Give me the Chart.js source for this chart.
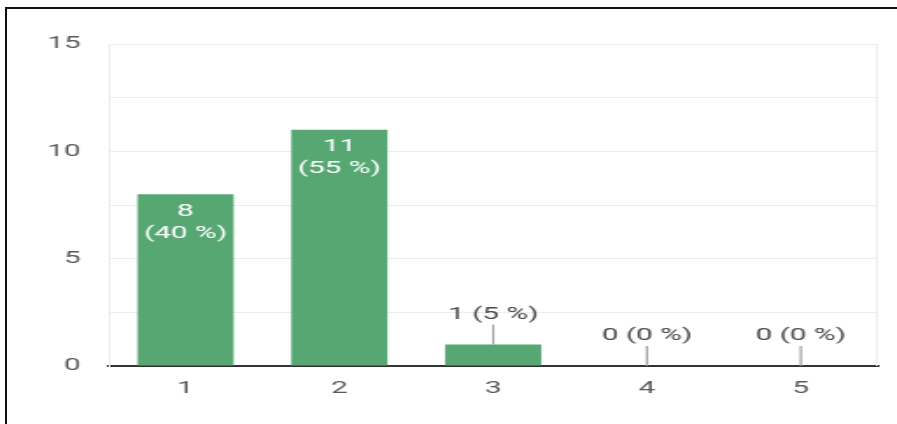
<!DOCTYPE html>
<html>
<head>
<meta charset="utf-8">
<title>Responses</title>
<script src="https://cdn.jsdelivr.net/npm/chart.js@4.4.1/dist/chart.umd.min.js"></script>
<style>
    html, body { margin: 0; padding: 0; background: #fff; overflow: hidden; }
    #frame {
        position: absolute; left: 5px; top: 7px; width: 900px; height: 430px;
        border-top: 2px solid #111; border-left: 2px solid #111; box-sizing: border-box;
    }
    #chart { position: absolute; left: 0; top: 0; }
</style>
</head>
<body>
<div id="frame"></div>
<!-- the chart is laid out narrow and shown wide -->
<canvas id="chart" width="512" height="424" style="width:897px;height:424px"></canvas>
<script>
var categories = ['1', '2', '3', '4', '5'];
var counts = [8, 11, 1, 0, 0];
var yTickLabels = [0, 5, 10, 15];

var barColor = '#57a773';
var gridColor = '#ececec';
var textColor = '#5a5a5a';
var fontFamily = 'Roboto, "Noto Sans", sans-serif';

var total = 0;
for (var i = 0; i < counts.length; i++) total += counts[i];

// light line on the right edge of the plot
var edgePlugin = {
    id: 'edge',
    beforeDatasetsDraw: function(chart) {
        var a = chart.chartArea;
        var ctx = chart.ctx;
        ctx.save();
        ctx.strokeStyle = gridColor;
        ctx.lineWidth = 1;
        ctx.beginPath();
        ctx.moveTo(a.right - 0.5, a.top);
        ctx.lineTo(a.right - 0.5, a.bottom);
        ctx.stroke();
        ctx.restore();
    }
};

// "n (p %)" labels, inside tall bars, on a short stalk above low ones
var valueLabels = {
    id: 'valueLabels',
    afterDatasetsDraw: function(chart) {
        var ctx = chart.ctx;
        var meta = chart.getDatasetMeta(0);
        ctx.save();
        ctx.font = '17px ' + fontFamily;
        ctx.textAlign = 'center';
        ctx.textBaseline = 'middle';
        meta.data.forEach(function(bar, i) {
            var pct = Math.round(counts[i] / total * 100);
            if (bar.base - bar.y > 50) {
                ctx.fillStyle = '#ffffff';
                ctx.fillText(String(counts[i]), bar.x, bar.y + 17);
                ctx.fillText('(' + pct + ' %)', bar.x, bar.y + 39);
            } else {
                ctx.strokeStyle = '#9e9e9e';
                ctx.lineWidth = 1.2;
                ctx.beginPath();
                ctx.moveTo(bar.x, bar.y);
                ctx.lineTo(bar.x, bar.y - 20);
                ctx.stroke();
                ctx.fillStyle = '#4a4a4a';
                ctx.fillText(counts[i] + ' (' + pct + ' %)', bar.x, bar.y - 30);
            }
        });
        ctx.restore();
    }
};

var ctx = document.getElementById('chart').getContext('2d');
var chart = new Chart(ctx, {
    type: 'bar',
    data: {
        labels: categories,
        datasets: [{
            data: counts,
            backgroundColor: barColor,
            borderWidth: 0,
            barPercentage: 0.625,
            categoryPercentage: 1.0
        }]
    },
    options: {
        responsive: false,
        animation: false,
        devicePixelRatio: 1,
        layout: { padding: { top: 44, right: 11, left: 0, bottom: 0 } },
        plugins: {
            legend: { display: false },
            tooltip: { enabled: false }
        },
        scales: {
            x: {
                grid: { display: false, drawTicks: false },
                border: { display: true, color: '#333333', width: 2 },
                ticks: {
                    color: textColor,
                    padding: 13,
                    font: { family: fontFamily, size: 17 }
                },
                afterFit: function(scale) { scale.height = 58; }
            },
            y: {
                min: 0,
                max: 15,
                grid: {
                    drawTicks: false,
                    color: function(c) { return c.tick && c.tick.value === 0 ? 'rgba(0,0,0,0)' : gridColor; }
                },
                border: { display: true, color: gridColor, width: 1 },
                ticks: {
                    stepSize: 2.5,
                    padding: 16,
                    color: textColor,
                    font: { family: fontFamily, size: 17 },
                    callback: function(v) { return yTickLabels.indexOf(v) >= 0 ? String(v) : ''; }
                },
                afterFit: function(scale) { scale.width = 62; }
            }
        }
    },
    plugins: [edgePlugin, valueLabels]
});
</script>
</body>
</html>
